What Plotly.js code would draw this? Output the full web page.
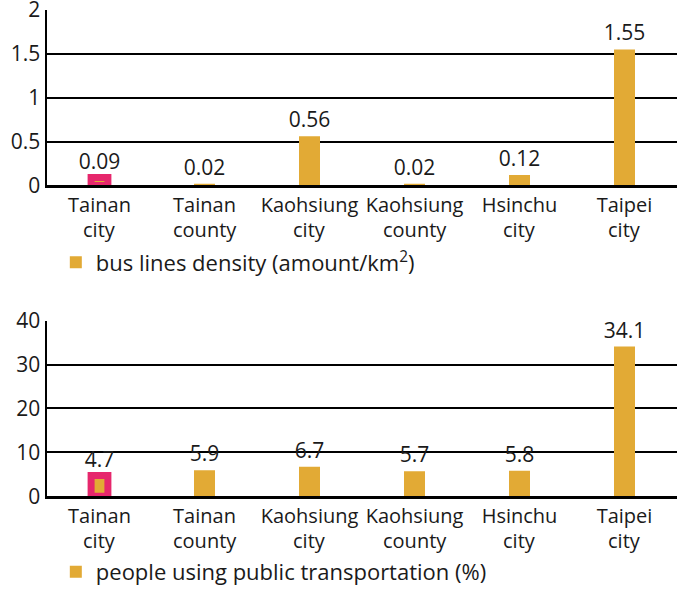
<!DOCTYPE html>
<html>
<head>
<meta charset="utf-8">
<script src="https://cdn.plot.ly/plotly-3.0.1.min.js"></script>
<style>html,body{margin:0;padding:0;background:#fff;}#chart{width:677px;height:593px;}</style>
</head>
<body>
<div id="chart"></div>
<script>
const categories = ["Tainan city", "Tainan county", "Kaohsiung city", "Kaohsiung county", "Hsinchu city", "Taipei city"];
const busDensity = [0.09, 0.02, 0.56, 0.02, 0.12, 1.55];
const publicTransport = [4.7, 5.9, 6.7, 5.7, 5.8, 34.1];
const busLabel = "bus lines density (amount/km<sup>2</sup>)";
const ptLabel = "people using public transportation (%)";
const highlightCategory = "Tainan city";

const GOLD = "#E2AA35";
const PINK = "#E6276C";
const INK = "#1a1a1a";
const FONT = "Open Sans, sans-serif";
const FS = 21;
const XFS = 20;

const firstLine = categories.map(c => c.split(" ")[0]);
const secondLine = categories.map(c => c.split(" ").slice(1).join(" "));
const hi = categories.indexOf(highlightCategory);

function mainTrace(vals, name, xa, ya, lg) {
  return {
    type: "bar", x: categories, y: vals, name: name,
    xaxis: xa, yaxis: ya, legend: lg,
    width: categories.map((c, i) => i === hi ? 0.16 : 0.2),
    marker: {color: GOLD, line: {width: 0}},
    text: vals.map(String), textposition: "outside", cliponaxis: false,
    constraintext: "none",
    textfont: {family: FONT, size: FS, color: INK}
  };
}
function highlightTrace(vals, xa, ya) {
  return {
    type: "bar", x: [categories[hi]], y: [vals[hi]],
    xaxis: xa, yaxis: ya, showlegend: false,
    width: 0.16,
    marker: {color: GOLD, line: {color: PINK, width: 7}},
    cliponaxis: false
  };
}

const traces = [
  mainTrace(busDensity, busLabel, "x", "y", "legend"),
  highlightTrace(busDensity, "x", "y"),
  mainTrace(publicTransport, ptLabel, "x2", "y2", "legend2"),
  highlightTrace(publicTransport, "x2", "y2")
];

const xCommon = {
  type: "category", range: [-0.5, 5.5], domain: [0, 1],
  showline: true, linecolor: "#000", linewidth: 2.5,
  showgrid: false, zeroline: false, ticks: "", tickangle: 0,
  tickmode: "array", tickvals: categories, ticktext: firstLine,
  tickfont: {family: FONT, size: XFS, color: INK}, fixedrange: true
};
const yCommon = {
  showline: true, linecolor: "#000", linewidth: 2.5,
  showgrid: true, gridcolor: "#000", gridwidth: 2,
  zeroline: false, ticks: "", ticklabeloverflow: "allow",
  tickfont: {family: FONT, size: FS, color: INK}, fixedrange: true
};

// second line of each category label, placed under the axis tick label
function secondLineAnnots(xref, yref) {
  return categories.map((c, i) => ({
    x: c, y: 0, xref: xref, yref: yref,
    text: secondLine[i], showarrow: false,
    xanchor: "center", yanchor: "middle", yshift: -44,
    font: {family: FONT, size: XFS, color: INK}
  }));
}

const layout = {
  width: 677, height: 593,
  margin: {l: 47, r: 0, t: 0, b: 0},
  paper_bgcolor: "#fff", plot_bgcolor: "#fff",
  font: {family: FONT, color: INK},
  barmode: "overlay",
  xaxis: Object.assign({}, xCommon, {anchor: "y"}),
  yaxis: Object.assign({}, yCommon, {domain: [1 - 188/593, 1 - 10/593], range: [0, 2], dtick: 0.5, anchor: "x"}),
  xaxis2: Object.assign({}, xCommon, {anchor: "y2"}),
  yaxis2: Object.assign({}, yCommon, {domain: [1 - 503/593, 1 - 325/593], range: [0, 40], dtick: 10, anchor: "x2"}),
  annotations: secondLineAnnots("x", "y").concat(secondLineAnnots("x2", "y2")),
  legend: {x: 0.014, y: 1 - 266/593, xanchor: "left", yanchor: "middle", bgcolor: "rgba(0,0,0,0)",
           font: {family: FONT, size: 22, color: INK}},
  legend2: {x: 0.014, y: 1 - 580/593, xanchor: "left", yanchor: "middle", bgcolor: "rgba(0,0,0,0)",
           font: {family: FONT, size: 22, color: INK}},
  showlegend: true
};

Plotly.newPlot("chart", traces, layout, {displayModeBar: false, staticPlot: true});
</script>
</body>
</html>
